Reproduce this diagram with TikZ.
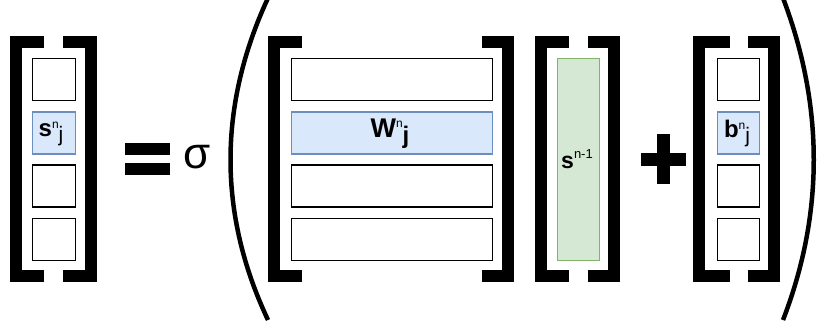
\documentclass[tikz,border=0pt]{standalone}
\usepackage{fontspec}
\setmainfont{Liberation Sans}
\newcommand{\fs}[1]{\fontsize{#1}{#1}\selectfont}
\begin{document}
\begin{tikzpicture}[x=1pt,y=-1pt,
  cell/.style={draw=black,line width=1.4pt,fill=white,inner sep=0pt,minimum width=42.5pt,minimum height=42pt},
  row/.style={cell,minimum width=201pt},
  hl/.style={fill={rgb,255:red,218;green,232;blue,252},draw={rgb,255:red,108;green,142;blue,191}},
  gr/.style={draw={rgb,255:red,130;green,179;blue,102},fill={rgb,255:red,213;green,232;blue,212},line width=1.4pt,inner sep=0pt,minimum width=42.5pt,minimum height=202pt},
  brk/.style={line width=12pt,line join=miter,line cap=butt},
  par/.style={line width=4.5pt},
  lbl/.style={inner sep=0pt}
]
\path[use as bounding box] (0,0) rectangle (817,326);
% left vector s
\node[cell] (s1) at (54,79.5) {};
\node[cell,hl] (s2) at (54,133) {};
\node[cell] (s3) at (54,186) {};
\node[cell] (s4) at (54,239.5) {};
\node[lbl] (sl) at (51,134) {{\fs{24}\bfseries s}\raisebox{8pt}{\fs{12}n}\raisebox{-5pt}{\fs{21}j}};
\draw[brk] (44,42) -- (16,42) -- (16,276) -- (44,276);
\draw[brk] (63,42) -- (91,42) -- (91,276) -- (63,276);
% equals
\fill (125,143) rectangle (170,155);
\fill (125,163) rectangle (170,175);
% sigma
\node[lbl] (sig) at (197.5,157) {\fs{44}σ};
% parens
\draw[par] (268,-2) .. controls (218,106) and (218,214) .. (268,320);
\draw[par] (783,-2) .. controls (824,106) and (824,214) .. (783,320);
% W matrix
\node[row] (w1) at (392,79.5) {};
\node[row,hl] (w2) at (392,133) {};
\node[row] (w3) at (392,186) {};
\node[row] (w4) at (392,239.5) {};
\node[lbl] (wl) at (390,134) {{\fs{27}\bfseries W}\raisebox{10pt}{\fs{12}n}\raisebox{-6pt}{\fs{24}\bfseries j}};
\draw[brk] (302,42) -- (274,42) -- (274,276) -- (302,276);
\draw[brk] (482,42) -- (508,42) -- (508,276) -- (482,276);
% s^{n-1}
\node[gr] (sp) at (578.5,159.5) {};
\node[lbl] (spl) at (577,159) {{\fs{23}\bfseries s}\raisebox{10pt}{\fs{13}n-1}};
\draw[brk] (569,42) -- (541,42) -- (541,276) -- (569,276);
\draw[brk] (588,42) -- (614,42) -- (614,276) -- (588,276);
% plus
\fill (641,153) rectangle (686,166);
\fill (657,134) rectangle (670,184);
% b vector
\node[cell] (b1) at (738.5,79.5) {};
\node[cell,hl] (b2) at (738.5,133) {};
\node[cell] (b3) at (738.5,186) {};
\node[cell] (b4) at (738.5,239.5) {};
\node[lbl] (bl) at (737,133) {{\fs{24}\bfseries b}\raisebox{8pt}{\fs{12}n}\raisebox{-5pt}{\fs{21}j}};
\draw[brk] (730,42) -- (699,42) -- (699,276) -- (730,276);
\draw[brk] (748,42) -- (774,42) -- (774,276) -- (748,276);
\end{tikzpicture}
\end{document}
